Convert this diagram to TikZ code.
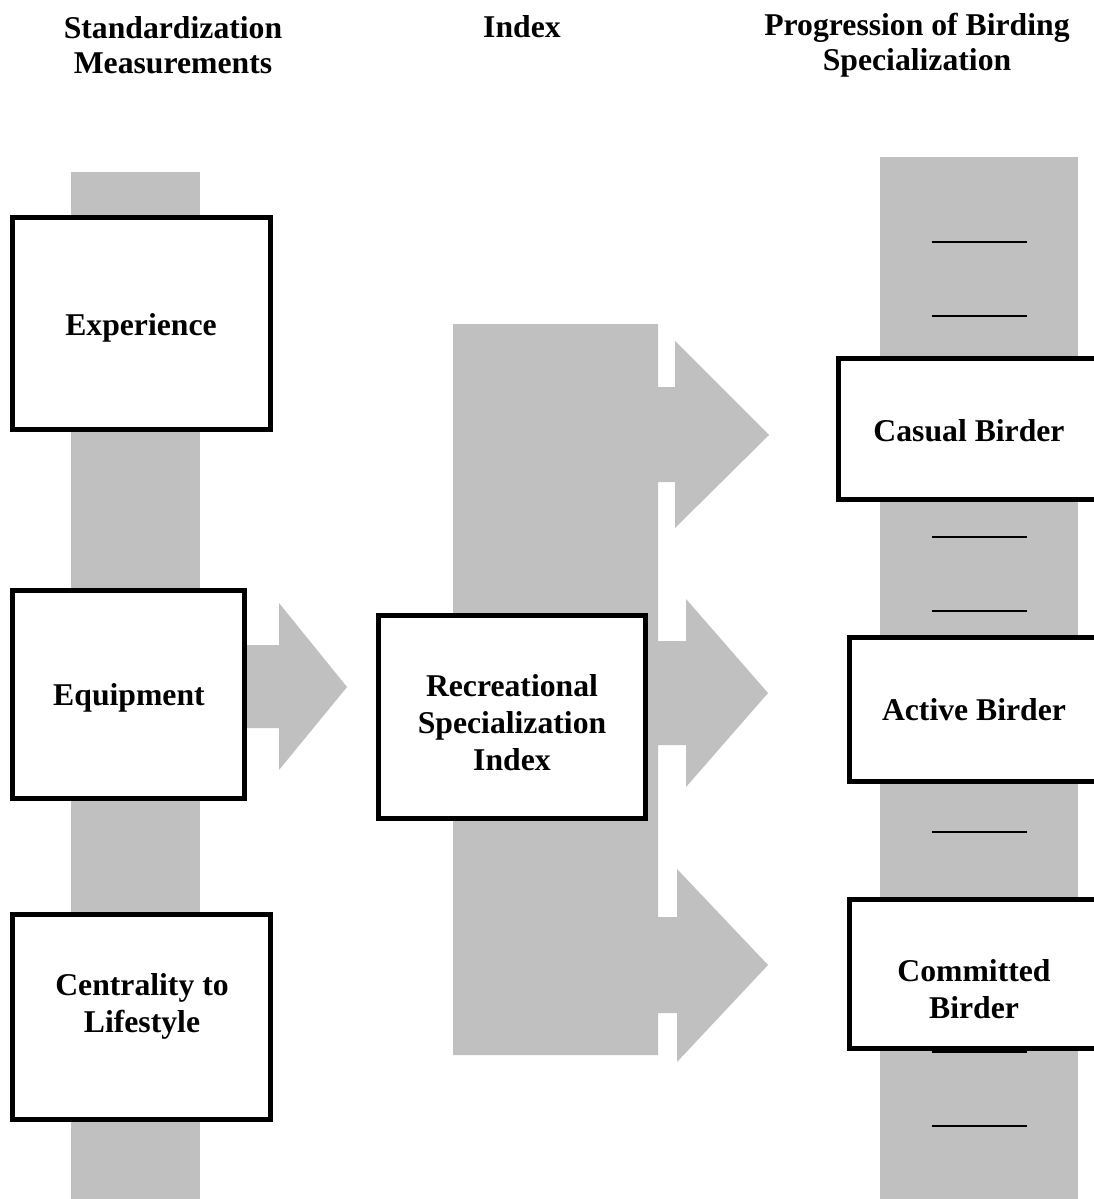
\documentclass[tikz,border=0pt]{standalone}
\usepackage{fontspec}
\setmainfont{Liberation Serif}
\definecolor{band}{RGB}{192,192,192}
\tikzset{
  box/.style={draw=black, line width=5pt, fill=white, inner sep=0pt},
  txt/.style={font=\fontsize{31.7}{37}\selectfont\bfseries, align=center, inner sep=0pt},
  hdr/.style={font=\fontsize{31.7}{35}\selectfont\bfseries, align=center, inner sep=0pt},
  tick/.style={draw=black, line width=1.5pt},
}
\begin{document}
\begin{tikzpicture}[x=1pt,y=-1pt]
\useasboundingbox (0,0) rectangle (1094,1199);
\clip (0,0) rectangle (1094,1199);
\fill[white] (0,0) rectangle (1094,1199);

% headers
\node[hdr] (h1) at (173,45) {Standardization\\Measurements};
\node[hdr] (h2) at (522,27) {Index};
\node[hdr] (h3) at (917,45) {Progression of Birding\\Specialization};

% grey bands
\fill[band] (71,172) rectangle (200,1199);
\fill[band] (880,157) rectangle (1078,1199);

% left arrow
\fill[band] (240,645) -- (279,645) -- (279,603) -- (347,687) -- (279,770) -- (279,728) -- (240,728) -- cycle;

% middle block with three arrows
\fill[band] (453,324) -- (658,324) -- (658,387) -- (675,387) -- (675,341) -- (769,435)
  -- (675,528) -- (675,482) -- (658,482) -- (658,641) -- (686,641) -- (686,599)
  -- (768,693) -- (686,787) -- (686,745) -- (658,745) -- (658,917) -- (677,917)
  -- (677,869) -- (768,965) -- (677,1062) -- (677,1013) -- (658,1013) -- (658,1055)
  -- (453,1055) -- cycle;

% ticks on the right band
\foreach \y/\n in {242/t1,316/t2,537/t3,611/t4,832/t5,1052/t6,1126/t7}{
  \coordinate (\n a) at (932,\y);
  \coordinate (\n b) at (1027,\y);
  \draw[tick] (\n a) -- (\n b);
}

% left boxes
\node[box, minimum width=258pt, minimum height=212pt] (exp) at (141.5,323.5) {};
\node[txt] (expt) at (141,328) {Experience};
\node[box, minimum width=232pt, minimum height=208pt] (equ) at (128.5,694.5) {};
\node[txt] (equt) at (129,698) {Equipment};
\node[box, minimum width=258pt, minimum height=205pt] (cen) at (141.5,1017) {};
\node[txt] (cent) at (142,1006) {Centrality to\\Lifestyle};

% middle box
\node[box, minimum width=267pt, minimum height=203pt] (rsi) at (512,717) {};
\node[txt] (rsit) at (512,723) {Recreational\\Specialization\\Index};

% right boxes
\node[box, minimum width=261pt, minimum height=141pt] (cas) at (969,429) {};
\node[txt] (cast) at (969,431) {Casual Birder};
\node[box, minimum width=249pt, minimum height=144pt] (act) at (974,709.5) {};
\node[txt] (actt) at (974,710) {Active Birder};
\node[box, minimum width=249pt, minimum height=149pt] (com) at (974,974) {};
\node[txt] (comt) at (974,989) {Committed\\Birder};
\end{tikzpicture}
\end{document}
